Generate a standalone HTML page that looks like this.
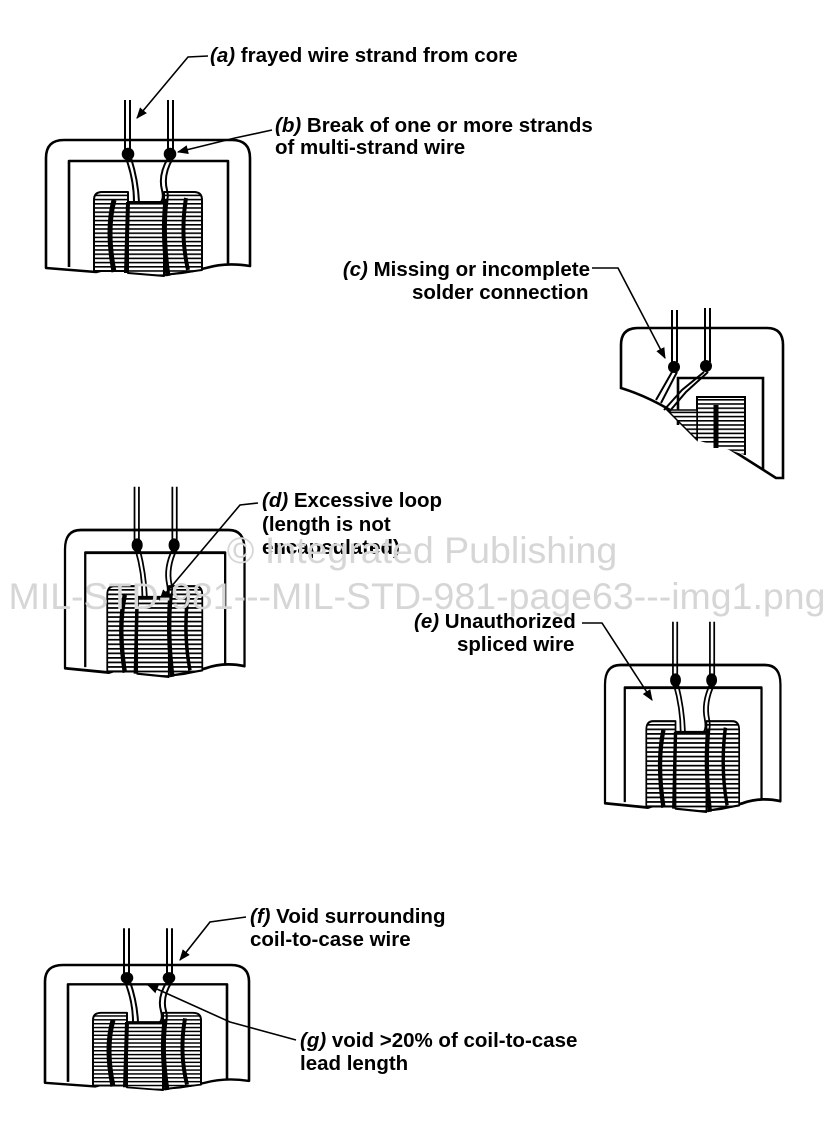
<!DOCTYPE html>
<html><head><meta charset="utf-8"><style>
html,body{margin:0;padding:0;background:#fff;}
svg{display:block;}
text{font-family:"Liberation Sans",Arial,sans-serif;font-weight:bold;font-size:20.5px;fill:#000;}
.w{font-weight:normal;fill:#d6d6d6;font-size:37.5px;}
</style></head><body>
<svg width="835" height="1148" viewBox="0 0 835 1148" xmlns="http://www.w3.org/2000/svg">
<defs>
<pattern id="h" width="6" height="4.2" patternUnits="userSpaceOnUse">
<rect width="6" height="4.2" fill="#fff"/><rect y="0" width="6" height="1.6" fill="#000"/>
</pattern>
<marker id="ar" viewBox="0 0 10 10" refX="9" refY="5" markerWidth="7" markerHeight="7" orient="auto"><path d="M0,1 L10,5 L0,9Z" fill="#000"/></marker>
<g id="comp" fill="none" stroke="#000" stroke-width="2.6" stroke-linejoin="round">
<path d="M0,128 L0,18 Q0,0 18,0 L186,0 Q204,0 204,18 L204,126 Q180,122 160,128 Q130,136 100,134 Q70,126 50,132 Q25,130 0,128Z" fill="#fff"/>
<path d="M23,127 L23,21 L182,21 L182,124"/>
<path d="M48,131 L48,60 Q48,52 56,52 L82,52 L82,131 Z" fill="url(#h)" stroke-width="2"/>
<path d="M82,133 L82,62 L118,62 L118,136 Z" fill="url(#h)" stroke-width="2"/>
<path d="M118,135 L118,52 L148,52 Q156,52 156,60 L156,130 Z" fill="url(#h)" stroke-width="2"/>
<path d="M68,60 Q60,90 68,132" stroke-width="5"/>
<path d="M82,62 L80,133" stroke-width="4"/>
<path d="M120,60 Q116,95 122,136" stroke-width="5"/>
<path d="M140,58 Q134,95 142,130" stroke-width="4"/>
<path d="M79,-40 L79,12 M84,-40 L84,12 M122,-40 L122,12 M127,-40 L127,12" stroke-width="2"/>
<circle cx="82" cy="14" r="5" fill="#000"/><circle cx="124" cy="14" r="5" fill="#000"/>
<path d="M80,18 Q88,40 88,62 M85,18 Q92,40 93,62 M122,18 Q112,35 116,50 Q118,58 115,62 M127,18 Q117,35 121,50 Q123,58 120,62" stroke-width="2"/>
</g>
</defs>

<!-- (a)(b) -->
<use href="#comp" transform="translate(46,140)"/>
<path d="M208,56 L188,57 L137,118" fill="none" stroke="#000" stroke-width="1.6" marker-end="url(#ar)"/>
<path d="M272,130 L235,138 L178,152" fill="none" stroke="#000" stroke-width="1.6" marker-end="url(#ar)"/>
<text x="210" y="62"><tspan font-style="italic">(a)</tspan> frayed wire strand from core</text>
<text x="275" y="132"><tspan font-style="italic">(b)</tspan> Break of one or more strands</text>
<text x="275" y="154">of multi-strand wire</text>

<!-- (c) -->
<g fill="none" stroke="#000" stroke-width="2.6">
<path d="M621,388 L621,345 Q621,328 638,328 L767,328 Q783,328 783,345 L783,478 L776,478 Q740,455 700,430 Q660,400 621,388Z" fill="#fff"/>
<path d="M678,425 L678,378 L763,378 L763,470"/>
<path d="M697,440 L697,397 L745,397 L745,455" fill="url(#h)" stroke-width="2"/>
<path d="M667,410 L697,440 L697,410 Z" fill="url(#h)" stroke-width="1.5"/>
<path d="M716,405 L716,448" stroke-width="5"/>
<path d="M672,310 L672,362 M677,310 L677,362 M705,308 L705,362 M710,308 L710,362" stroke-width="2"/>
</g>
<circle cx="674" cy="367" r="6"/><circle cx="706" cy="366" r="6"/>
<path d="M672,372 L656,400 M677,372 L661,403 M704,372 L682,390 L664,410 M708,372 L686,392 L669,412" fill="none" stroke="#000" stroke-width="2"/>
<path d="M592,268 L618,268 L665,358" fill="none" stroke="#000" stroke-width="1.6" marker-end="url(#ar)"/>
<text x="590" y="276" text-anchor="end"><tspan font-style="italic">(c)</tspan> Missing or incomplete</text>
<text x="412" y="299">solder connection</text>

<!-- (d) -->
<use href="#comp" transform="translate(65,530) scale(0.88,1.08)"/>
<path d="M258,503 L240,505 L160,600" fill="none" stroke="#000" stroke-width="1.6" marker-end="url(#ar)"/>
<text x="262" y="507"><tspan font-style="italic">(d)</tspan> Excessive loop</text>
<text x="262" y="531">(length is not</text>
<text x="262" y="554">encapsulated)</text>

<!-- watermark -->
<text class="w" x="422" y="563" text-anchor="middle">© Integrated Publishing</text>
<text class="w" x="417" y="609" text-anchor="middle">MIL-STD-981---MIL-STD-981-page63---img1.png</text>

<!-- (e) -->
<use href="#comp" transform="translate(605,665) scale(0.86,1.08)"/>
<path d="M582,623 L602,623 L652,700" fill="none" stroke="#000" stroke-width="1.6" marker-end="url(#ar)"/>
<text x="414" y="628"><tspan font-style="italic">(e)</tspan> Unauthorized</text>
<text x="457" y="651">spliced wire</text>

<!-- (f)(g) -->
<use href="#comp" transform="translate(45,965) scale(1,0.92)"/>
<path d="M246,917 L210,922 L180,960" fill="none" stroke="#000" stroke-width="1.6" marker-end="url(#ar)"/>
<path d="M296,1040 L230,1022 L148,985" fill="none" stroke="#000" stroke-width="1.6" marker-end="url(#ar)"/>
<text x="250" y="923"><tspan font-style="italic">(f)</tspan> Void surrounding</text>
<text x="250" y="946">coil-to-case wire</text>
<text x="300" y="1047"><tspan font-style="italic">(g)</tspan> void &gt;20% of coil-to-case</text>
<text x="300" y="1070">lead length</text>
</svg>
</body></html>
